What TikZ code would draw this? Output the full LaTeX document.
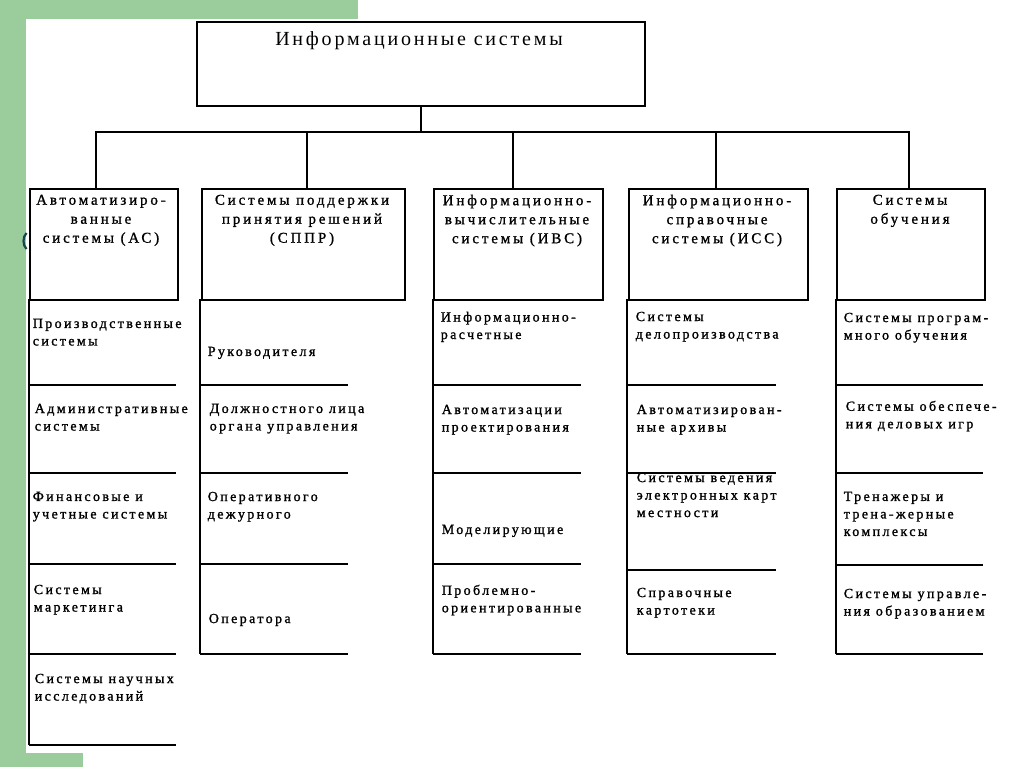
\documentclass[tikz,border=0pt]{standalone}
\usepackage{fontspec}
\setmainfont{Liberation Serif}
\newfontfamily\itemfont[LetterSpace=17,FakeBold=1.3]{Liberation Serif}
\newfontfamily\headfont[LetterSpace=19,FakeBold=1.1]{Liberation Serif}
\newfontfamily\titlefont[LetterSpace=14]{Liberation Serif}
\definecolor{slidegreen}{RGB}{155,204,155}
\definecolor{glyphteal}{RGB}{20,70,80}
\begin{document}
\begin{tikzpicture}[x=1pt,y=-1pt,
  line width=1.6pt,
  catbox/.style={draw,line width=1.6pt,inner sep=0pt,anchor=north west},
  headtext/.style={anchor=north,inner sep=0pt,align=center,
     font=\headfont\fontsize{15}{19}\selectfont},
  itemtext/.style={anchor=north west,inner sep=0pt,align=left,
     font=\itemfont\fontsize{14}{17.5}\selectfont},
  sep/.style={line width=1.6pt}]
\useasboundingbox (0,0) rectangle (1024,767);
\fill[white] (0,0) rectangle (1024,767);
\fill[slidegreen] (0,0) rectangle (26,767);
\fill[slidegreen] (0,0) rectangle (358,19);
\fill[slidegreen] (0,753) rectangle (83,767);
\draw[glyphteal,line width=2.2pt] (26.5,233) .. controls (22.5,237) and (22.5,245) .. (26.5,249);

% top box
\node[catbox,minimum width=448,minimum height=84] (top) at (196,21) {};
\node[anchor=north,inner sep=0pt,font=\titlefont\fontsize{20}{22}\selectfont] (toptext) at (419,31) {Информационные системы};

% category boxes
\node[catbox,minimum width=148,minimum height=111] (c1) at (29,188) {};
\node[catbox,minimum width=203,minimum height=111] (c2) at (201,188) {};
\node[catbox,minimum width=169,minimum height=111] (c3) at (433,188) {};
\node[catbox,minimum width=179,minimum height=111] (c4) at (628,188) {};
\node[catbox,minimum width=148,minimum height=111] (c5) at (836,188) {};

\node[headtext] (h1) at (101,194) {Автоматизиро-\\ванные\\системы (АС)};
\node[headtext] (h2) at (302,194) {Системы поддержки\\принятия решений\\(СППР)};
\node[headtext] (h3) at (517,194) {Информационно-\\вычислительные\\системы (ИВС)};
\node[headtext] (h4) at (717,194) {Информационно-\\справочные\\системы (ИСС)};
\node[headtext] (h5) at (910,194) {Системы\\обучения};

% connectors
\coordinate (bus) at (top.south |- 0,132);
\draw (top.south) -- (bus);
\draw (c1.north -| 96,0) |- (bus) -| (c5.north -| 909,0);
\draw (c2.north -| 307,0) -- (bus -| 307,0);
\draw (c3.north -| 513,0) -- (bus -| 513,0);
\draw (c4.north -| 716,0) -- (bus -| 716,0);

% column 1
\draw[sep] (29,299) -- (29,745);
\foreach \yy in {385,473,564,654,745} \draw[sep] (29,\yy) -- (176,\yy);
% column 2
\draw[sep] (200,299) -- (200,654);
\foreach \yy in {385,473,564,654} \draw[sep] (200,\yy) -- (348,\yy);
% column 3
\draw[sep] (433,299) -- (433,654);
\foreach \yy in {385,473,564,654} \draw[sep] (433,\yy) -- (581,\yy);
% column 4
\draw[sep] (627,299) -- (627,654);
\foreach \yy in {385,473,570,654} \draw[sep] (627,\yy) -- (776,\yy);
% column 5
\draw[sep] (836,299) -- (836,654);
\foreach \yy in {385,473,565,654} \draw[sep] (836,\yy) -- (983,\yy);

% items column 1
\node[itemtext] (a1) at (32,318) {Производственные\\системы};
\node[itemtext] (a2) at (34,403) {Административные\\системы};
\node[itemtext] (a3) at (32,491) {Финансовые и\\учетные системы};
\node[itemtext] (a4) at (33,584) {Системы\\маркетинга};
\node[itemtext] (a5) at (34,673) {Системы научных\\исследований};
% items column 2
\node[itemtext] (b1) at (207,346) {Руководителя};
\node[itemtext] (b2) at (209,403) {Должностного лица\\органа управления};
\node[itemtext] (b3) at (207,491) {Оперативного\\дежурного};
\node[itemtext] (b4) at (208,613) {Оператора};
% items column 3
\node[itemtext] (d1) at (440,311) {Информационно-\\расчетные};
\node[itemtext] (d2) at (441,404) {Автоматизации\\проектирования};
\node[itemtext] (d3) at (441,524) {Моделирующие};
\node[itemtext] (d4) at (441,584) {Проблемно-\\ориентированные};
% items column 4
\node[itemtext] (e1) at (635,311) {Системы\\делопроизводства};
\node[itemtext] (e2) at (636,404) {Автоматизирован-\\ные архивы};
\node[itemtext] (e3) at (636,472) {Системы ведения\\электронных карт\\местности};
\node[itemtext] (e4) at (636,587) {Справочные\\картотеки};
% items column 5
\node[itemtext] (f1) at (843,312) {Системы програм-\\много обучения};
\node[itemtext] (f2) at (845,400) {Системы обеспече-\\ния деловых игр};
\node[itemtext] (f3) at (843,491) {Тренажеры и\\трена-жерные\\комплексы};
\node[itemtext] (f4) at (843,588) {Системы управле-\\ния образованием};
\end{tikzpicture}
\end{document}
